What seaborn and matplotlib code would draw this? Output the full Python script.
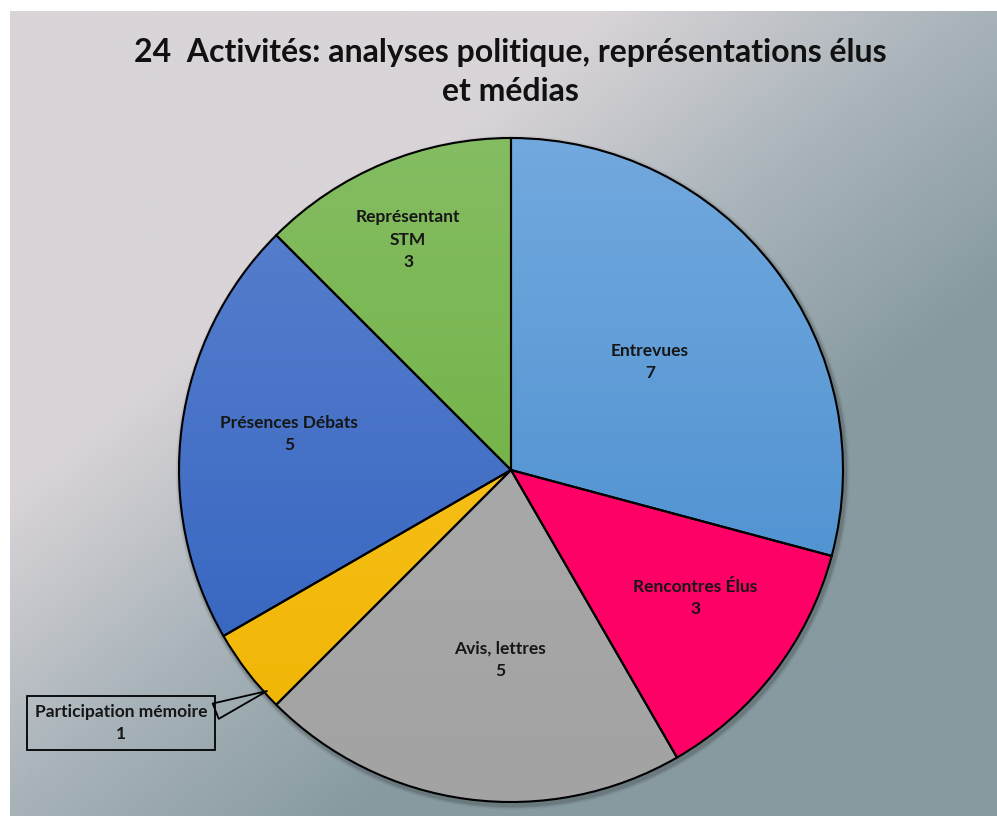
import numpy as np
import matplotlib
matplotlib.use("Agg")
import matplotlib.pyplot as plt
import seaborn as sns
from matplotlib.colors import LinearSegmentedColormap
from matplotlib.patches import Circle

sns.set_theme(style="white")
plt.rcParams["font.family"] = ["Lato", "DejaVu Sans"]

# data
categories = ["Entrevues", "Rencontres Élus", "Avis, lettres", "Participation mémoire",
              "Présences Débats", "Représentant\nSTM"]
values = [7, 3, 5, 1, 5, 3]
title = "24  Activités: analyses politique, représentations élus\net médias"

# top / bottom colour of each slice gradient
top_colors = ["#72a9de", "#ff0066", "#adadad", "#ffc82c", "#5b82cf", "#84bd62"]
bottom_colors = ["#3f87cb", "#ff0066", "#a3a3a3", "#eeb400", "#2e5fbd", "#68aa33"]
# label placement (fraction of radius, angle shift in degrees)
label_dist = [0.53, 0.675, 0.573, None, 0.677, 0.759]
label_shift = [0.3, 2.7, 4.2, 0, -1.7, 1.6]

W, H = 997, 816
fig = plt.figure(figsize=(W / 100, H / 100), dpi=100)
fig.patch.set_facecolor("white")

# background gradient
bg = fig.add_axes([10 / W, 0, (W - 10) / W, (H - 11) / H])
bg.set_axis_off()
xx, yy = np.meshgrid(np.linspace(0, 1, 300), np.linspace(0, 1, 300))
s = np.clip((xx + yy - 0.6) / 0.75, 0, 1)
bg_cmap = LinearSegmentedColormap.from_list("bg", ["#d9d4d8", "#a9b4ba", "#879aa0"])
bg.imshow(s, cmap=bg_cmap, extent=[0, 1, 0, 1], origin="upper", aspect="auto")
bg.set_xlim(0, 1)
bg.set_ylim(0, 1)

# pie axes: centre at (511, 470) px, radius 332 px
cx, cy, r = 511, 470, 332
ax = fig.add_axes([(cx - r) / W, (H - cy - r) / H, 2 * r / W, 2 * r / H])
ax.set_axis_off()

# soft shadow round the pie
for lw, a in [(7, 0.05), (5, 0.07), (3.5, 0.1)]:
    ax.add_patch(Circle((0.005, -0.008), 1.0, fill=False, ec="black", lw=lw, alpha=a,
                        zorder=0.2, clip_on=False))

wedges, _ = ax.pie(values, startangle=90, counterclock=False, radius=1,
                   wedgeprops=dict(edgecolor="black", linewidth=1.5))

grad = np.linspace(0, 1, 256).reshape(-1, 1)
for w, c1, c2 in zip(wedges, top_colors, bottom_colors):
    cmap = LinearSegmentedColormap.from_list("g", [c1, c2])
    im = ax.imshow(grad, cmap=cmap, extent=[-1, 1, -1, 1], origin="upper",
                   aspect="auto", zorder=0.5)
    im.set_clip_path(w)
    w.set_facecolor("none")
    w.set_zorder(1)
ax.set_xlim(-1, 1)
ax.set_ylim(-1, 1)

# slice labels
for w, cat, v, d, sh in zip(wedges, categories, values, label_dist, label_shift):
    if d is None:
        continue
    ang = np.deg2rad((w.theta1 + w.theta2) / 2 + sh)
    ax.text(d * np.cos(ang), d * np.sin(ang), f"{cat}\n{v}", ha="center", va="center",
            fontsize=12.5, fontweight="bold", color="#161616", linespacing=1.5, zorder=3)

# callout for the small slice
ax.annotate(f"{categories[3]}\n{values[3]}", xy=((267 - cx) / r, (cy - 691) / r),
            xytext=((121 - cx) / r, (cy - 723) / r), ha="center", va="center",
            fontsize=12.5, fontweight="bold", color="#161616", linespacing=1.5,
            annotation_clip=False, zorder=4,
            bbox=dict(boxstyle="square,pad=0.45", fc="none", ec="black", lw=1.3),
            arrowprops=dict(arrowstyle="wedge,tail_width=0.95,shrink_factor=0.5",
                            fc="none", ec="black", lw=1.3, shrinkA=0, shrinkB=0,
                            relpos=(1.0, 0.72)))

fig.text(510 / W, 1 - 72 / H, title, ha="center", va="center", fontsize=23,
         fontweight="bold", color="#111111", linespacing=1.42)

fig.savefig("out.png", dpi=100)
